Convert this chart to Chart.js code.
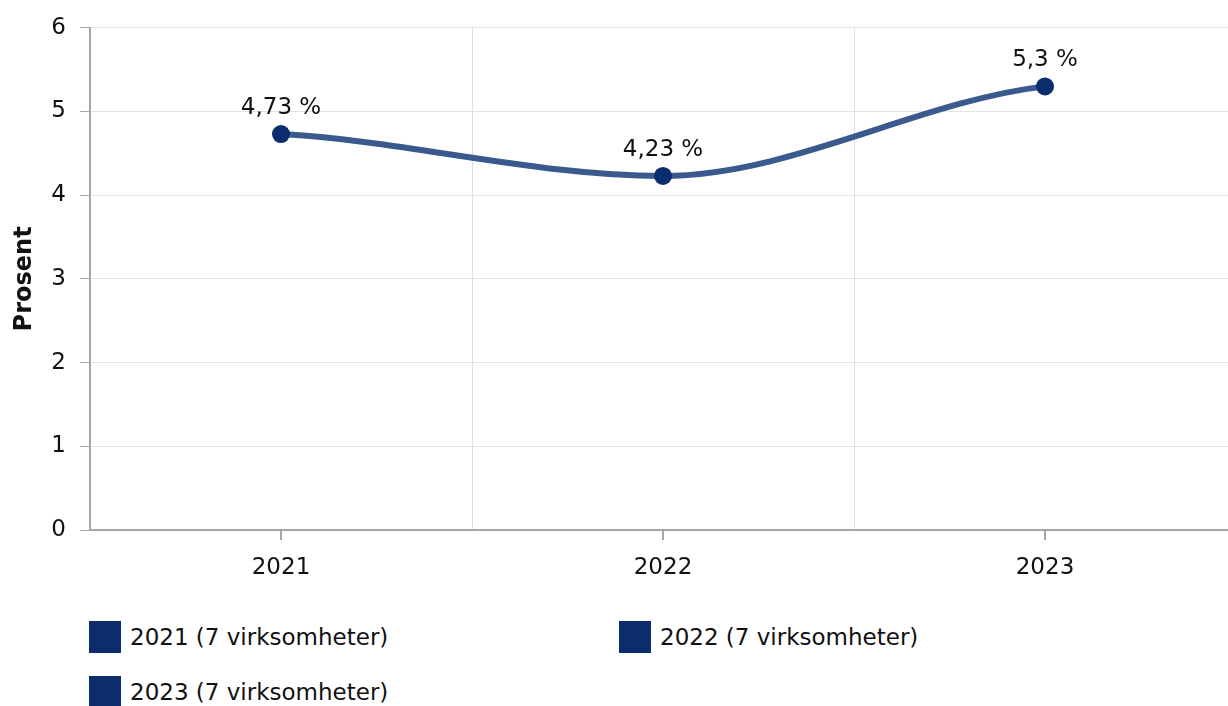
<!DOCTYPE html>
<html>
<head>
<meta charset="utf-8">
<script src="https://cdn.jsdelivr.net/npm/chart.js@4.4.1/dist/chart.umd.min.js"></script>
<style>
  html, body { margin: 0; padding: 0; background: #fff; overflow: hidden; width: 1228px; height: 706px; }
  #wrap { position: absolute; left: 0; top: 0; width: 1245px; height: 600px; }
  #legend { position: absolute; left: 89px; top: 620px; width: 1100px; display: flex; flex-wrap: wrap; font-family: "DejaVu Sans", Verdana, sans-serif; font-size: 23px; color: #111; }
  .item { width: 530px; display: flex; align-items: center; height: 34px; margin-bottom: 21px; }
  .box { width: 32px; height: 32px; background: #0b2d6b; margin-right: 9px; }
</style>
</head>
<body>
<div id="wrap"><canvas id="chart" width="1245" height="600"></canvas></div>
<div id="legend"></div>
<script>
const categories = ['2021', '2022', '2023'];
const values = [4.73, 4.23, 5.3];
const valueLabels = ['4,73 %', '4,23 %', '5,3 %'];
const legendLabels = ['2021 (7 virksomheter)', '2022 (7 virksomheter)', '2023 (7 virksomheter)'];
const yTicks = [0, 1, 2, 3, 4, 5, 6];

const FONT = '"DejaVu Sans", Verdana, sans-serif';

document.getElementById('legend').innerHTML = legendLabels
  .map(l => `<div class="item"><div class="box"></div><span>${l}</span></div>`).join('');

// smooth curve: flat at extremes, softened slope at the ends
const spline = {
  id: 'spline',
  beforeDatasetsDraw(chart) {
    const meta = chart.getDatasetMeta(0);
    const line = meta.dataset;
    line.updateControlPoints(chart.chartArea);
    const pts = meta.data;
    const n = pts.length;
    const sec = [];
    for (let i = 0; i < n - 1; i++) sec.push((pts[i + 1].y - pts[i].y) / (pts[i + 1].x - pts[i].x));
    pts.forEach((p, i) => {
      let m;
      if (i === 0) m = sec[0] * 0.5;
      else if (i === n - 1) m = sec[n - 2] * 0.5;
      else m = sec[i - 1] * sec[i] <= 0 ? 0 : (sec[i - 1] + sec[i]) / 2;
      if (i > 0) {
        const dx = (p.x - pts[i - 1].x) / 3;
        p.cp1x = p.x - dx; p.cp1y = p.y - m * dx;
      } else { p.cp1x = p.x; p.cp1y = p.y; }
      if (i < n - 1) {
        const dx = (pts[i + 1].x - p.x) / 3;
        p.cp2x = p.x + dx; p.cp2y = p.y + m * dx;
      } else { p.cp2x = p.x; p.cp2y = p.y; }
    });
    line._path = undefined;
  }
};

// value labels above points + tick marks at category centres
const extras = {
  id: 'extras',
  afterDraw(chart) {
    const ctx = chart.ctx;
    const meta = chart.getDatasetMeta(0);
    const xs = chart.scales.x;
    ctx.save();
    ctx.strokeStyle = '#a6a6a6';
    ctx.lineWidth = 2;
    categories.forEach((c, i) => {
      const x = Math.round(xs.getPixelForValue(i));
      ctx.beginPath();
      ctx.moveTo(x, xs.top);
      ctx.lineTo(x, xs.top + 10);
      ctx.stroke();
    });
    ctx.fillStyle = '#111';
    ctx.font = '23px ' + FONT;
    ctx.textAlign = 'center';
    ctx.textBaseline = 'middle';
    meta.data.forEach((pt, i) => {
      ctx.fillText(valueLabels[i], pt.x, pt.y - 26);
    });
    ctx.restore();
  }
};

new Chart(document.getElementById('chart'), {
  type: 'line',
  data: {
    labels: categories,
    datasets: [{
      data: values,
      borderColor: '#3a5a8e',
      borderWidth: 6,
      tension: 0.4,
      pointRadius: 9,
      pointBackgroundColor: '#0a2d6d',
      pointBorderWidth: 0,
      fill: false
    }]
  },
  options: {
    responsive: false,
    animation: false,
    layout: { padding: { top: 24, left: 0, right: 0, bottom: 0 } },
    plugins: { legend: { display: false }, tooltip: { enabled: false } },
    scales: {
      x: {
        offset: true,
        afterFit: s => { s.height = 70; },
        grid: { offset: true, color: '#dedede', lineWidth: 1, drawTicks: false },
        border: { color: '#a6a6a6', width: 2 },
        ticks: { color: '#111', font: { family: FONT, size: 23 }, padding: 24 }
      },
      y: {
        min: 0,
        max: 6,
        afterFit: s => { s.width = 90; },
        afterBuildTicks: s => { s.ticks = yTicks.map(v => ({ value: v })); },
        grid: { color: '#e3e3e3', lineWidth: 1, tickLength: 10, tickColor: '#a6a6a6' },
        border: { color: '#a6a6a6', width: 2 },
        ticks: { color: '#111', font: { family: FONT, size: 23 }, padding: 14 },
        title: { display: true, text: 'Prosent', color: '#111', font: { family: FONT, size: 24, weight: 'bold' }, padding: { top: 10 } }
      }
    }
  },
  plugins: [spline, extras]
});
</script>
</body>
</html>
